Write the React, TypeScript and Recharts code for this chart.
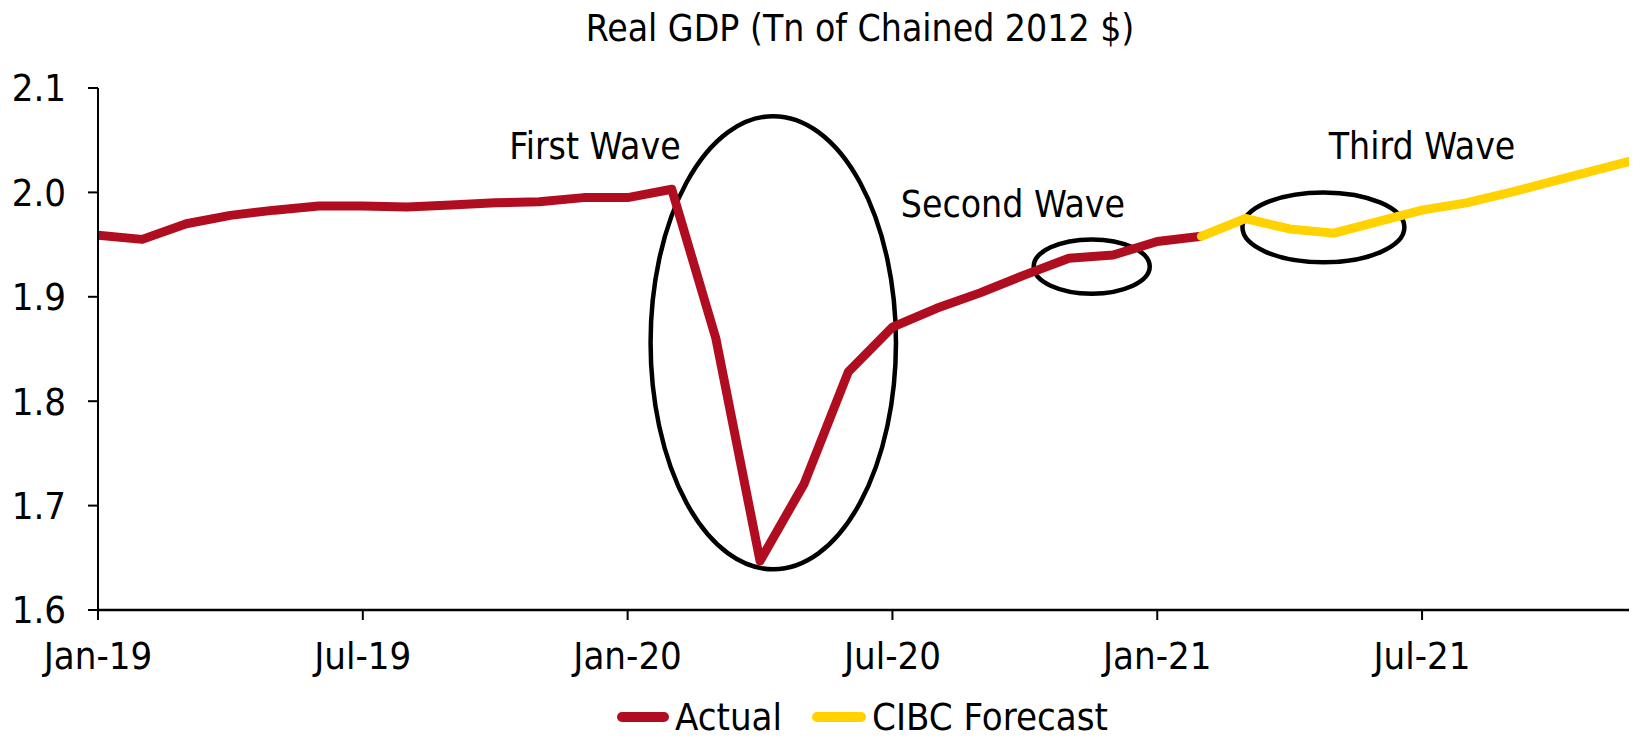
import React from 'react';
import { LineChart, Line, XAxis, YAxis, Legend, ReferenceArea, ReferenceDot } from 'recharts';

const months = [
  'Jan-19','Feb-19','Mar-19','Apr-19','May-19','Jun-19','Jul-19','Aug-19','Sep-19','Oct-19','Nov-19','Dec-19',
  'Jan-20','Feb-20','Mar-20','Apr-20','May-20','Jun-20','Jul-20','Aug-20','Sep-20','Oct-20','Nov-20','Dec-20',
  'Jan-21','Feb-21','Mar-21','Apr-21','May-21','Jun-21','Jul-21','Aug-21','Sep-21','Oct-21','Nov-21','Dec-21',
];

// Actual: Jan-19 .. Feb-21
const actual = [
  1.959, 1.955, 1.970, 1.978, 1.983, 1.987, 1.987, 1.986, 1.988, 1.990, 1.991, 1.995,
  1.995, 2.003, 1.860, 1.647, 1.721, 1.828, 1.871, 1.889, 1.904, 1.921, 1.937, 1.940,
  1.953, 1.958,
];

// CIBC Forecast: Feb-21 .. Dec-21
const forecastStart = 25;
const forecast = [1.958, 1.975, 1.965, 1.961, 1.972, 1.983, 1.990, 2.000, 2.011, 2.022, 2.033];

const xTicks = [0, 6, 12, 18, 24, 30];
const xDomainMax = 34.87; // the source chart is cropped just before Dec-21
const yTicks = [1.6, 1.7, 1.8, 1.9, 2.0, 2.1];

// ellipse annotations in data units: [x1, x2, y1, y2]
const ellipses = [
  [12.52, 18.08, 1.639, 2.073],
  [21.2, 23.83, 1.903, 1.955],
  [25.93, 29.6, 1.933, 2.0],
];

const waveLabels = [
  { text: 'First Wave', x: 11.26, y: 2.044 },
  { text: 'Second Wave', x: 20.73, y: 1.988 },
  { text: 'Third Wave', x: 30.0, y: 2.044 },
];

const FONT = '"DejaVu Sans Condensed", "DejaVu Sans", sans-serif';
const FS = 38;
const FS_TITLE = 37;
const STRETCH = 'condensed';
const RED = '#B10D20';
const YELLOW = '#FFD200';

const rows = months.map((m, i) => ({
  i,
  month: m,
  actual: i < actual.length ? actual[i] : null,
  forecast: i >= forecastStart && i - forecastStart < forecast.length ? forecast[i - forecastStart] : null,
}));

const EllipseShape = (p: any) => {
  const { x, y, width, height } = p;
  return (
    <ellipse
      cx={x + width / 2}
      cy={y + height / 2}
      rx={Math.abs(width) / 2}
      ry={Math.abs(height) / 2}
      fill="none"
      stroke="#000"
      strokeWidth={4.5}
    />
  );
};

const textStyle = { fontFamily: FONT, fontStretch: STRETCH } as any;

const LegendContent = () => (
  <div
    style={{
      display: 'flex',
      alignItems: 'center',
      marginLeft: 609,
      height: 34,
      fontSize: FS,
      lineHeight: '38px',
      color: '#000',
      ...textStyle,
    }}
  >
    <span style={{ display: 'inline-block', width: 52, height: 10, borderRadius: 5, background: RED }} />
    <span style={{ marginLeft: 6 }}>Actual</span>
    <span style={{ display: 'inline-block', width: 54, height: 10, borderRadius: 5, background: YELLOW, marginLeft: 30 }} />
    <span style={{ marginLeft: 6 }}>CIBC Forecast</span>
  </div>
);

export default function App() {
  return (
    <div style={{ position: 'relative', width: 1629, height: 732, background: '#fff', ...textStyle }}>
      <div
        style={{
          position: 'absolute',
          left: 452,
          width: 800,
          top: 1,
          textAlign: 'center',
          fontSize: FS_TITLE,
          lineHeight: '40px',
          color: '#000',
        }}
      >
        Real GDP (Tn of Chained 2012 $)
      </div>
      <LineChart width={1629} height={732} data={rows} margin={{ top: 80, right: 0, bottom: 0, left: 0 }}>
        <XAxis
          type="number"
          dataKey="i"
          domain={[0, xDomainMax]}
          allowDataOverflow
          ticks={xTicks}
          tickFormatter={(v: number) => months[v]}
          height={90}
          tickSize={10}
          tickMargin={22}
          axisLine={{ stroke: '#000', strokeWidth: 2.5 }}
          tickLine={{ stroke: '#000', strokeWidth: 2 }}
          tick={{ fill: '#000', fontSize: FS, style: textStyle }}
          interval={0}
        />
        <YAxis
          type="number"
          domain={[1.6, 2.1]}
          ticks={yTicks}
          tickFormatter={(v: number) => v.toFixed(1)}
          width={90}
          tickSize={10}
          tickMargin={22}
          axisLine={{ stroke: '#000', strokeWidth: 2 }}
          tickLine={{ stroke: '#000', strokeWidth: 2 }}
          tick={{ fill: '#000', fontSize: FS, style: textStyle }}
          interval={0}
          allowDataOverflow
        />
        <Legend verticalAlign="bottom" height={40} content={LegendContent} />
        <Line
          type="linear"
          dataKey="actual"
          name="Actual"
          stroke={RED}
          strokeWidth={9}
          dot={false}
          strokeLinejoin="round"
          isAnimationActive={false}
          connectNulls={false}
        />
        <Line
          type="linear"
          dataKey="forecast"
          name="CIBC Forecast"
          stroke={YELLOW}
          strokeWidth={9}
          dot={false}
          strokeLinecap="round"
          strokeLinejoin="round"
          isAnimationActive={false}
          connectNulls={false}
        />
        {ellipses.map((e, k) => (
          <ReferenceArea key={'e' + k} x1={e[0]} x2={e[1]} y1={e[2]} y2={e[3]} shape={EllipseShape} ifOverflow="visible" />
        ))}
        {waveLabels.map((w, k) => (
          <ReferenceDot
            key={'w' + k}
            x={w.x}
            y={w.y}
            r={1}
            ifOverflow="visible"
            shape={(p: any) => (
              <text x={p.cx} y={p.cy} textAnchor="middle" dominantBaseline="central" fontSize={FS_TITLE} fill="#000" style={textStyle}>
                {w.text}
              </text>
            )}
          />
        ))}
      </LineChart>
    </div>
  );
}
